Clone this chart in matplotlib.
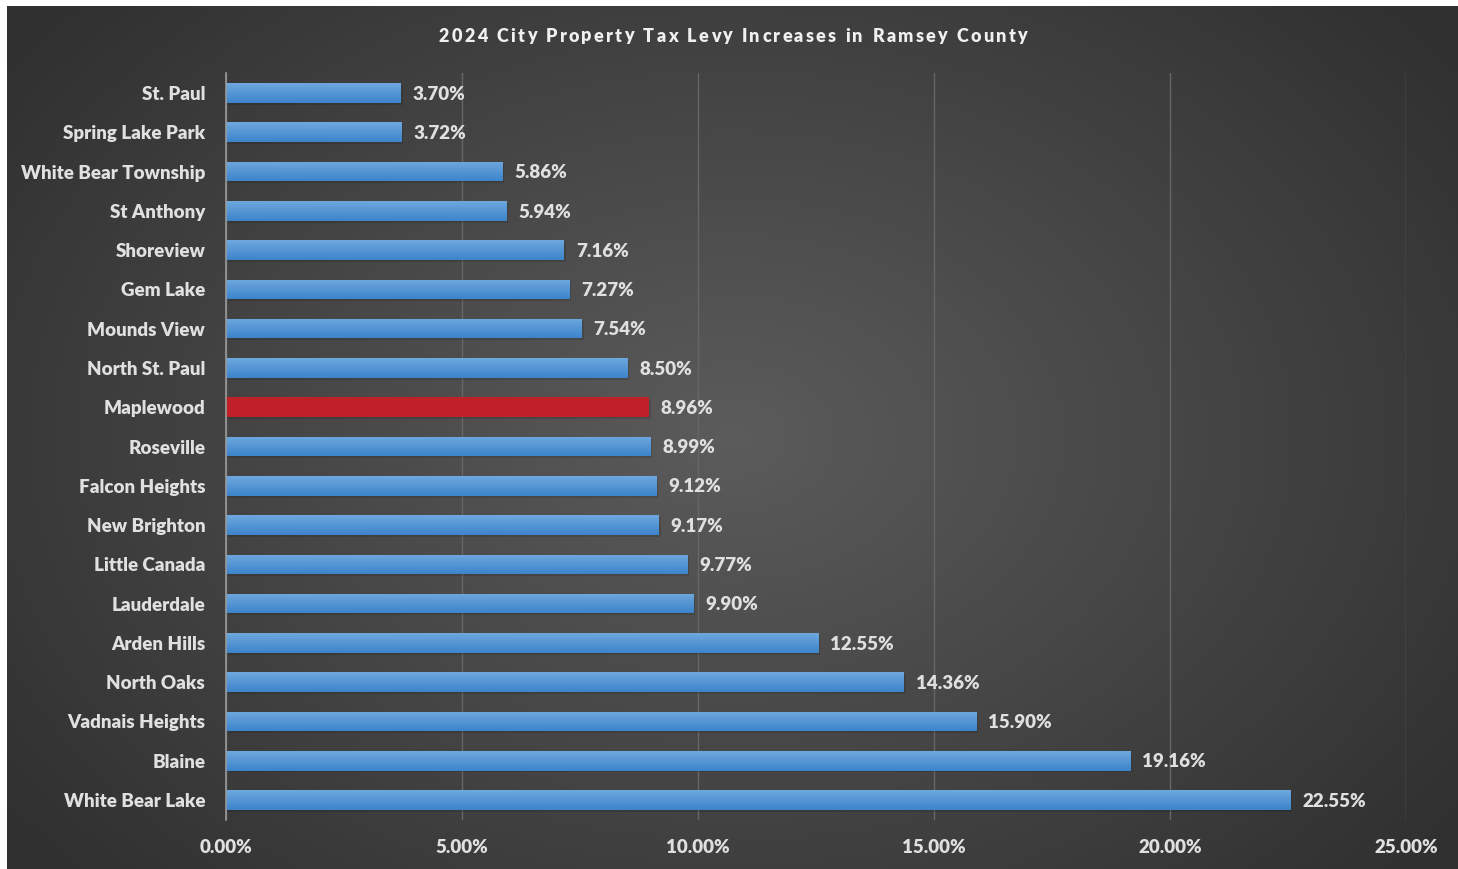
import numpy as np
import matplotlib
matplotlib.use("Agg")
import matplotlib.pyplot as plt
from matplotlib.patches import Rectangle
from matplotlib.colors import LinearSegmentedColormap

cities = ["St. Paul", "Spring Lake Park", "White Bear Township", "St Anthony",
          "Shoreview", "Gem Lake", "Mounds View", "North St. Paul", "Maplewood",
          "Roseville", "Falcon Heights", "New Brighton", "Little Canada",
          "Lauderdale", "Arden Hills", "North Oaks", "Vadnais Heights",
          "Blaine", "White Bear Lake"]
levy = [3.70, 3.72, 5.86, 5.94, 7.16, 7.27, 7.54, 8.50, 8.96, 8.99, 9.12,
        9.17, 9.77, 9.90, 12.55, 14.36, 15.90, 19.16, 22.55]
highlight = "Maplewood"
title = "2024 City Property Tax Levy Increases in Ramsey County"

plt.rcParams['font.family'] = ['Lato', 'DejaVu Sans']
txt = '#e0e0e0'
wt = 'heavy'
fs = 13.5

W, H = 1458, 869
fig = plt.figure(figsize=(W / 100, H / 100), dpi=100, facecolor='white')

# dark panel with radial gradient
bg = fig.add_axes([7 / W, 0, 1 - 7 / W, 1 - 6 / H])
bg.set_axis_off()
yy, xx = np.mgrid[0:1:300j, 0:1:500j]
r = np.sqrt(((xx - 0.5) / 0.62) ** 2 + ((yy - 0.5) / 0.75) ** 2)
g = 0.36 - 0.17 * np.clip(r, 0, 1)
bg.imshow(np.dstack([g, g, g]), extent=[0, 1, 0, 1], aspect='auto')

ax = fig.add_axes([226 / W, 1 - 819.6 / H, (1406 - 226) / W, (819.6 - 73.4) / H])
ax.patch.set_alpha(0)
ypos = np.arange(len(cities))

grad = np.linspace(1, 0, 50).reshape(-1, 1)
blue = LinearSegmentedColormap.from_list('b', ['#3d84cb', '#6ea8de'])
for y, v, c in zip(ypos, levy, cities):
    # soft shadow
    ax.add_patch(Rectangle((0.02, y - 0.25 + 0.05), v + 0.02, 0.5, color='black',
                           alpha=0.12, zorder=2, lw=0))
    if c == highlight:
        ax.add_patch(Rectangle((0, y - 0.25), v, 0.5, color='#c0202a', zorder=3, lw=0))
    else:
        rect = Rectangle((0, y - 0.25), v, 0.5, facecolor='none', lw=0, zorder=3)
        ax.add_patch(rect)
        im = ax.imshow(grad, cmap=blue, extent=[0, v, y + 0.25, y - 0.25],
                       aspect='auto', zorder=3, origin='upper')
        im.set_clip_path(rect)
    ax.text(v + 0.25, y + 0.03, f"{v:.2f}%", va='center', ha='left', color=txt,
            fontsize=fs, fontweight=wt, zorder=4)

ax.set_xlim(0, 25)
ax.set_ylim(len(cities) - 0.5, -0.5)
ax.set_yticks(ypos)
ax.set_yticklabels(cities)
ax.set_xticks(np.arange(0, 26, 5))
ax.set_xticklabels([f"{t:.2f}%" for t in np.arange(0, 26, 5)])
ax.tick_params(axis='y', length=0, pad=15, labelsize=fs, labelcolor=txt)
ax.tick_params(axis='x', length=0, pad=14, labelsize=fs, labelcolor=txt)
for lb in ax.get_xticklabels() + ax.get_yticklabels():
    lb.set_fontweight(wt)
ax.grid(axis='x', color='#666666', lw=1, zorder=1)
for s in ['top', 'right', 'bottom']:
    ax.spines[s].set_visible(False)
ax.spines['left'].set_color('#9a9a9a')
ax.spines['left'].set_linewidth(1.2)
ax.spines['left'].set_zorder(5)

# title with letter spacing
fig.canvas.draw()
rend = fig.canvas.get_renderer()
parts = []
total = 0
spacing = 2.2
for ch in title:
    t = fig.text(0, 0, ch if ch != ' ' else 'n', fontsize=13, fontweight=wt)
    w = t.get_window_extent(rend).width
    if ch == ' ':
        w *= 0.5
    t.remove()
    parts.append(w)
    total += w + spacing
total -= spacing
x = 733 - total / 2
for ch, w in zip(title, parts):
    if ch != ' ':
        fig.text(x / W, 1 - 36 / H, ch, fontsize=13, fontweight=wt,
                 color='#f0f0f0', ha='left', va='center')
    x += w + spacing

fig.savefig('out.png', dpi=100, facecolor='white')
